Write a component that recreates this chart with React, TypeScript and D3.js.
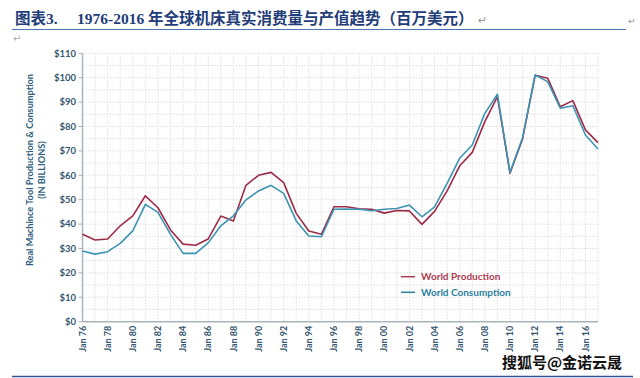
import React from "react";
import * as d3 from "d3";

const years: number[] = d3.range(1976, 2018);
const production: number[] = [35.8, 33.5, 33.9, 39.3, 43.4, 51.6, 46.7, 37.6, 31.8, 31.3, 33.9, 43.3, 41.3, 55.9, 60.0, 61.2, 57.0, 44.4, 37.2, 35.8, 47.1, 47.1, 46.3, 46.1, 44.5, 45.6, 45.4, 39.9, 45.2, 53.6, 63.9, 69.4, 82.0, 92.2, 60.8, 74.9, 101.0, 99.8, 88.1, 90.6, 78.6, 73.4];
const consumption: number[] = [29.0, 27.7, 28.7, 32.1, 37.2, 48.1, 44.8, 35.8, 28.0, 28.0, 32.3, 39.3, 43.4, 49.9, 53.6, 55.9, 52.6, 41.3, 35.1, 34.8, 46.1, 46.2, 46.1, 45.5, 46.1, 46.4, 47.8, 43.0, 47.1, 56.7, 67.0, 72.4, 85.4, 93.2, 61.2, 75.4, 101.1, 98.4, 87.5, 88.5, 76.5, 70.8];
const yTicks: number[] = [0, 10, 20, 30, 40, 50, 60, 70, 80, 90, 100, 110];
const xTickYears: number[] = d3.range(1976, 2017, 2);
const seriesNames: string[] = ["World Production", "World Consumption"];
const titleNum = "图表3.";
const titleText = "1976-2016 年全球机床真实消费量与产值趋势（百万美元）";
const yTitle1 = "Real Machince Tool Production & Consumption";
const yTitle2 = "(IN BILLIONS)";
const watermark = "搜狐号@金诺云晟";

export default function App() {
  const x = d3.scaleLinear().domain([1976, 2017]).range([82.5, 598]);
  const y = d3.scaleLinear().domain([0, 110]).range([321.7, 53.3]);
  const line = d3
    .line<number>()
    .x((_, i) => x(years[i]))
    .y((d) => y(d));
  const redLine = "#9d2b47";
  const blueLine = "#3b94b3";
  const sans = "Lato, 'Open Sans', sans-serif";
  const tickColor = "#34566e";
  const gridY = d3.range(5, 111, 5);
  const gridX = d3.range(1977, 2018, 1);

  return (
    <svg
      width={640}
      height={378}
      style={{ position: "absolute", left: 0, top: 0, background: "#fff" }}
    >
      {/* title */}
      <text x={15} y={24} fontFamily="'Liberation Serif', 'Noto Sans CJK SC', serif" fontWeight="bold" fontSize={15.5} fill="#1f3d78">
        {titleNum}
      </text>
      <text x={77} y={24} fontFamily="'Liberation Serif', 'Noto Sans CJK SC', serif" fontWeight="bold" fontSize={15.5} fill="#1f3d78">
        {titleText}
      </text>
      <text x={478} y={24} fontFamily="'DejaVu Sans', sans-serif" fontSize={11} fill="#999">↵</text>
      <text x={628} y={24} fontFamily="'DejaVu Sans', sans-serif" fontSize={9} fill="#999">↵</text>
      <line x1={12} x2={626} y1={29.5} y2={29.5} stroke="#4a74b8" strokeWidth={1.2} />
      <text x={13} y={42} fontFamily="'DejaVu Sans', sans-serif" fontSize={10} fill="#aaa">↵</text>

      {/* grid */}
      {gridY.map((v) => (
        <line key={"gy" + v} x1={x(1976)} x2={x(2017)} y1={y(v)} y2={y(v)} stroke="#dedede" strokeWidth={1} strokeDasharray="1.5,1.5" />
      ))}
      {gridX.map((v) => (
        <line key={"gx" + v} x1={x(v)} x2={x(v)} y1={y(0)} y2={y(110)} stroke="#dedede" strokeWidth={1} strokeDasharray="1.5,1.5" />
      ))}

      {/* axes */}
      <line x1={x(1976)} x2={x(1976)} y1={y(110)} y2={y(0)} stroke="#a9b3ba" strokeWidth={1.5} />
      <line x1={x(1976)} x2={x(2017)} y1={y(0)} y2={y(0)} stroke="#a9b3ba" strokeWidth={1.5} />
      {yTicks.map((v) => (
        <g key={"yt" + v}>
          <line x1={x(1976) - 4} x2={x(1976)} y1={y(v)} y2={y(v)} stroke="#a9b3ba" strokeWidth={1} />
          <text x={76} y={y(v)} dy="0.35em" textAnchor="end" fontFamily={sans} fontWeight="bold" fontSize={9.5} fill={tickColor}>
            {"$" + v}
          </text>
        </g>
      ))}
      {xTickYears.map((v) => (
        <text
          key={"xt" + v}
          transform={`translate(${x(v)},${y(0) + 4}) rotate(-90)`}
          textAnchor="end"
          dy="0.35em"
          fontFamily={sans}
          fontWeight="bold"
          fontSize={9}
          fill={tickColor}
        >
          {"Jan " + String(v % 100).padStart(2, "0")}
        </text>
      ))}

      {/* y title */}
      <text transform="translate(33,170) rotate(-90)" textAnchor="middle" fontFamily={sans} fontWeight="bold" fontSize={9.2} fill="#2f607e">
        {yTitle1}
      </text>
      <text transform="translate(45,170) rotate(-90)" textAnchor="middle" fontFamily={sans} fontWeight="bold" fontSize={9.2} fill="#2f607e">
        {yTitle2}
      </text>

      {/* lines */}
      <path d={line(production) || ""} fill="none" stroke={redLine} strokeWidth={1.6} strokeLinejoin="round" />
      <path d={line(consumption) || ""} fill="none" stroke={blueLine} strokeWidth={1.6} strokeLinejoin="round" />

      {/* legend */}
      <line x1={401} x2={415} y1={276.7} y2={276.7} stroke="#b03a4f" strokeWidth={1.5} />
      <text x={421} y={276.7} dy="0.35em" fontFamily={sans} fontWeight="bold" fontSize={10} fill="#b03a4f">
        {seriesNames[0]}
      </text>
      <line x1={401} x2={415} y1={292.3} y2={292.3} stroke="#2a7f9e" strokeWidth={1.5} />
      <text x={421} y={292.3} dy="0.35em" fontFamily={sans} fontWeight="bold" fontSize={10} fill="#2a7f9e">
        {seriesNames[1]}
      </text>

      {/* watermark */}
      <text x={502} y={368} fontFamily="'Noto Sans CJK SC', sans-serif" fontWeight="bold" fontSize={15} fill="#111" stroke="#fff" strokeWidth={2} paintOrder="stroke">
        {watermark}
      </text>

      {/* bottom line */}
      <line x1={12} x2={633} y1={376.5} y2={376.5} stroke="#2f5597" strokeWidth={1.5} />
    </svg>
  );
}
